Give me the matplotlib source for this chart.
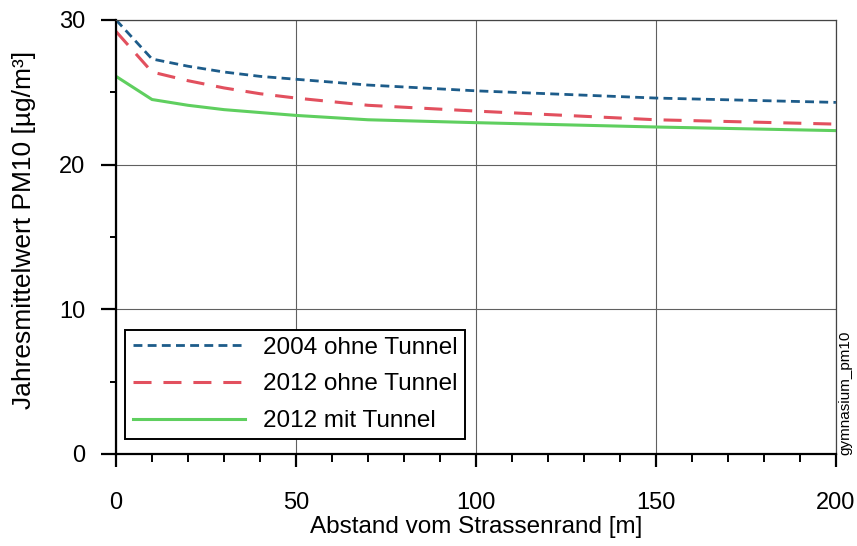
import numpy as np
import matplotlib.pyplot as plt
from matplotlib.ticker import MultipleLocator

plt.rcParams['font.family'] = ['Liberation Sans', 'DejaVu Sans']

# Abstand vom Strassenrand [m]
abstand = [0, 10, 20, 30, 40, 50, 70, 100, 150, 200]
# Jahresmittelwert PM10 [ug/m3]
pm10_2004_ohne = [30.0, 27.3, 26.8, 26.4, 26.1, 25.9, 25.5, 25.1, 24.6, 24.3]
pm10_2012_ohne = [29.2, 26.4, 25.8, 25.3, 24.9, 24.6, 24.1, 23.7, 23.1, 22.8]
pm10_2012_mit = [26.1, 24.5, 24.1, 23.8, 23.6, 23.4, 23.1, 22.9, 22.6, 22.35]

labels = ['2004 ohne Tunnel', '2012 ohne Tunnel', '2012 mit Tunnel']

fig = plt.figure(figsize=(8.57, 5.46), dpi=100)
ax = fig.add_axes([0.1354, 0.1685, 0.84, 0.795])

ax.plot(abstand, pm10_2004_ohne, color='#1d5c8a', lw=2.0, dashes=(3.2, 1.9), label=labels[0])
ax.plot(abstand, pm10_2012_ohne, color='#e2505e', lw=2.2, dashes=(5.9, 3.9), label=labels[1])
ax.plot(abstand, pm10_2012_mit, color='#5fcf5f', lw=2.2, label=labels[2])

ax.set_xlim(0, 200)
ax.set_ylim(0, 30)
ax.xaxis.set_major_locator(MultipleLocator(50))
ax.xaxis.set_minor_locator(MultipleLocator(10))
ax.yaxis.set_major_locator(MultipleLocator(10))
ax.yaxis.set_minor_locator(MultipleLocator(5))
ax.grid(True, which='major', color='#606060', lw=0.8)

for s in ['left', 'bottom']:
    ax.spines[s].set_linewidth(1.6)
for s in ['top', 'right']:
    ax.spines[s].set_linewidth(0.9)
    ax.spines[s].set_color('#444444')

ax.tick_params(axis='x', which='major', length=9.5, width=1.6, pad=18, labelsize=17)
ax.tick_params(axis='x', which='minor', length=6, width=1.4)
ax.tick_params(axis='y', which='major', length=11, width=1.6, pad=11, labelsize=17)
ax.tick_params(axis='y', which='minor', length=4.5, width=1.4)

ax.set_xlabel('Abstand vom Strassenrand [m]', fontsize=17.5, labelpad=1)
ax.set_ylabel('Jahresmittelwert PM10 [µg/m³]', fontsize=19, va='center')
ax.yaxis.set_label_coords(-0.128, 0.516)

leg = ax.legend(loc='lower left', bbox_to_anchor=(0.003, 0.017), fontsize=17.5,
                handlelength=4.6, handletextpad=0.75, labelspacing=0.6,
                fancybox=False, framealpha=1, edgecolor='black',
                borderpad=0.3, borderaxespad=0.3)
leg.get_frame().set_linewidth(1.4)

fig.text(0.986, 0.167, 'gymnasium_pm10', rotation=90, fontsize=11,
         ha='center', va='bottom')

fig.savefig('out.png', dpi=100)
